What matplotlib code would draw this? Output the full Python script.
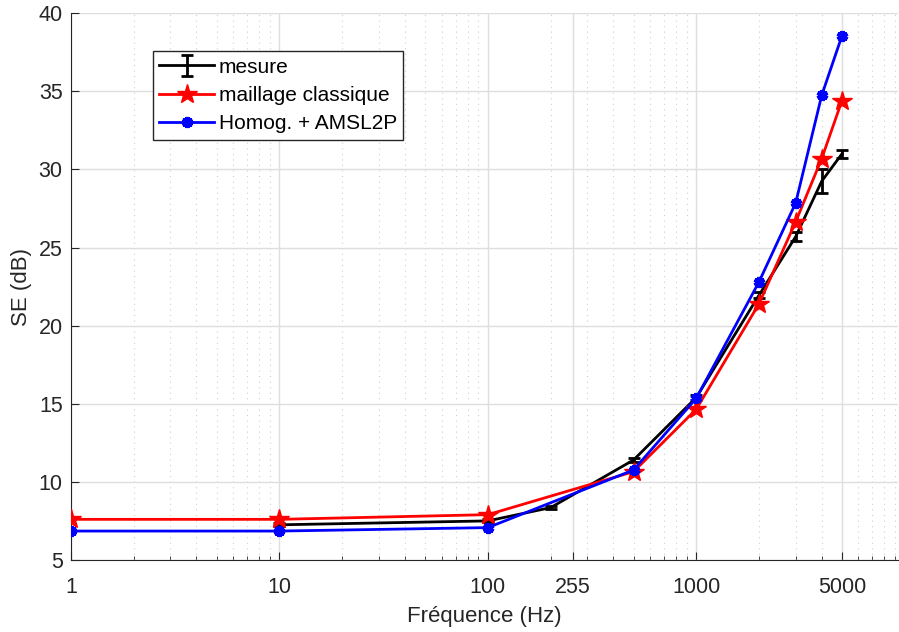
import matplotlib.pyplot as plt
from matplotlib.ticker import LogLocator, NullFormatter, FixedLocator

plt.rcParams['font.family'] = ['Liberation Sans', 'DejaVu Sans']

# measured data (with error bars)
freq_mes = [10, 100, 200, 500, 1000, 2000, 3000, 4000, 5000]
se_mes = [7.25, 7.5, 8.35, 11.4, 15.4, 21.95, 25.7, 29.25, 31.0]
err_mes = [0.1, 0.1, 0.1, 0.15, 0.15, 0.2, 0.3, 0.75, 0.25]

# simulations
freq_sim = [1, 10, 100, 500, 1000, 2000, 3000, 4000, 5000]
se_classique = [7.6, 7.6, 7.9, 10.65, 14.65, 21.4, 26.65, 30.7, 34.4]
se_homog = [6.85, 6.85, 7.07, 10.76, 15.35, 22.8, 27.86, 34.75, 38.55]

x_ticks = [1, 10, 100, 255, 1000, 5000]
y_ticks = [5, 10, 15, 20, 25, 30, 35, 40]

fig = plt.figure(figsize=(8.99, 6.32), dpi=100)
ax = fig.add_axes([0.079, 0.114, 0.92, 0.865])

ax.errorbar(freq_mes, se_mes, yerr=err_mes, color='black', lw=2,
            capsize=4, capthick=2, elinewidth=2, label='mesure', zorder=3)
ax.plot(freq_sim, se_classique, color='red', lw=2, marker='*',
        markersize=15, label='maillage classique', zorder=4)
ax.plot(freq_sim, se_homog, color='blue', lw=2, marker=(6, 2, 0),
        markersize=8, markeredgewidth=3, label='Homog. + AMSL2P', zorder=5)

ax.set_xscale('log')
ax.set_xlim(1, 9300)
ax.set_ylim(5, 40)
ax.xaxis.set_major_locator(FixedLocator(x_ticks))
ax.set_xticklabels([str(t) for t in x_ticks])
ax.xaxis.set_minor_locator(LogLocator(base=10, subs=range(2, 10)))
ax.xaxis.set_minor_formatter(NullFormatter())
ax.set_yticks(y_ticks)

ax.grid(True, which='major', color='#dedede', lw=1)
ax.grid(True, which='minor', axis='x', color='#cfcfcf', ls=(0, (1, 4)), lw=0.8)
ax.set_axisbelow(True)

ax.spines['top'].set_visible(False)
ax.spines['right'].set_visible(False)
for s in ['left', 'bottom']:
    ax.spines[s].set_color('#262626')
ax.tick_params(which='both', direction='in', colors='#262626', labelsize=15.5)
ax.tick_params(which='major', length=6)
ax.tick_params(which='minor', length=3)
ax.tick_params(axis='x', pad=12)
ax.tick_params(axis='y', pad=6)

ax.set_xlabel('Fréquence (Hz)', fontsize=16, color='#262626', labelpad=6)
ax.set_ylabel('SE (dB)', fontsize=16, color='#262626', labelpad=5)

handles, labels = ax.get_legend_handles_labels()
order = [labels.index(l) for l in ['mesure', 'maillage classique', 'Homog. + AMSL2P']]
leg = ax.legend([handles[i] for i in order], [labels[i] for i in order],
                loc='upper left', bbox_to_anchor=(0.099, 0.9305), fontsize=15,
                frameon=True, fancybox=False, edgecolor='#262626', framealpha=1,
                handlelength=2.65, handletextpad=0.2, borderpad=0.3,
                labelspacing=0.45, borderaxespad=0)
leg.get_frame().set_linewidth(1)

fig.savefig('out.png', dpi=100)
